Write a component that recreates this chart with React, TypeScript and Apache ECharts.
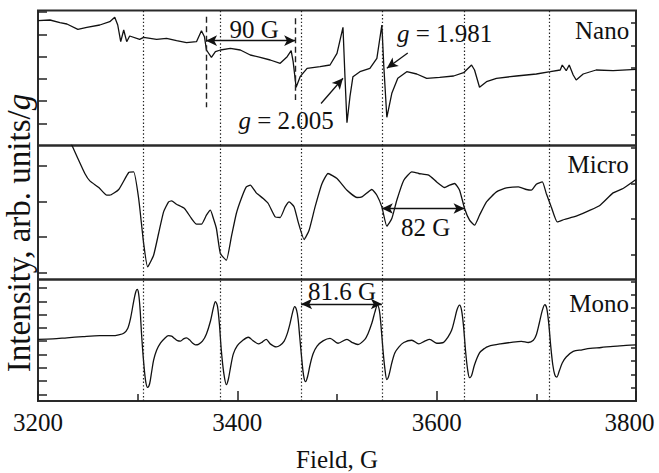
import React, { useEffect, useRef } from "react";
import * as echarts from "echarts";

// ---------- data (field in G, intensity in arb. units) ----------
const fieldMin = 3200;
const fieldMax = 3800;
const fieldLabelStep = 200;

const dottedLines = [3306, 3383, 3464, 3545, 3628, 3713];
const dashedLines = [3368.6, 3458];

const nanoField = [
  3200, 3212, 3222, 3229, 3240, 3249, 3262, 3272, 3277, 3280, 3283, 3286, 3289, 3292, 3302, 3306,
  3319, 3329, 3339, 3349, 3359, 3364, 3367, 3369, 3374, 3378, 3383, 3393, 3403, 3413, 3423, 3433,
  3443, 3450, 3454, 3456, 3459, 3463, 3470, 3483, 3493, 3500, 3506, 3508, 3510, 3513, 3516, 3523,
  3533, 3540, 3545, 3547, 3550, 3555, 3561, 3570, 3580, 3590, 3603, 3617, 3627, 3635, 3638, 3643,
  3650, 3660, 3680, 3700, 3714, 3724, 3726, 3730, 3733, 3737, 3740, 3747, 3760, 3777, 3800,
];
const nanoIntensity = [
  124.8, 125.5, 122.8, 121.5, 116.2, 118.2, 120.5, 123.8, 128.2, 120.5, 103.8, 115.5, 103.8, 109.5, 106.2, 108.2,
  106.2, 107.2, 104.8, 102.8, 103.8, 114.8, 108.8, 95.5, 88.2, 93.8, 95.5, 97.2, 95.5, 90.5, 88.2, 85.5,
  82.2, 88.8, 94.8, 83.8, 58.2, 68.8, 77.2, 78.8, 80.5, 92.2, 118.2, 68.8, 22.8, 48.8, 68.8, 73.8,
  77.2, 87.2, 120.5, 78.8, 28.2, 52.2, 67.2, 73.8, 71.5, 67.2, 68.2, 69.5, 72.8, 80.5, 75.5, 58.2,
  63.8, 67.2, 69.5, 71.5, 73.8, 75.5, 80.5, 74.8, 80.5, 70.5, 65.5, 71.5, 75.5, 74.8, 76.2,
];

const microField = [
  3226, 3234, 3240, 3247, 3252, 3261, 3269, 3272, 3281, 3291, 3296, 3301, 3306, 3310, 3316, 3321,
  3326, 3331, 3334, 3339, 3347, 3354, 3359, 3364, 3369, 3373, 3376, 3379, 3383, 3389, 3394, 3399,
  3404, 3409, 3413, 3419, 3426, 3431, 3438, 3443, 3448, 3452, 3457, 3461, 3467, 3472, 3478, 3485,
  3491, 3500, 3510, 3520, 3525, 3535, 3540, 3545, 3550, 3555, 3560, 3567, 3575, 3582, 3592, 3600,
  3608, 3613, 3618, 3623, 3628, 3633, 3638, 3643, 3650, 3660, 3670, 3682, 3690, 3695, 3700, 3706,
  3710, 3715, 3721, 3728, 3740, 3754, 3764, 3777, 3787, 3800,
];
const microIntensity = [
  150, 134.3, 121, 106, 98.6, 92, 84.3, 84.3, 90, 107, 107.6, 81, 36, 12.6, 24.3, 46,
  67.6, 77.6, 78.6, 75.3, 71, 61, 55.3, 55.3, 64.3, 69.3, 61, 51, 26, 19.3, 42.6, 66,
  81, 92.6, 94.3, 86.6, 81, 76, 62.6, 62, 72.6, 77.6, 72.6, 57.6, 40, 49.3, 72.6, 96,
  106, 101, 89.3, 82, 82.6, 90, 84.3, 72.6, 53.3, 61, 79.3, 99.3, 107.6, 106, 104.3, 97.6,
  92, 94.3, 96, 89.3, 71, 59.3, 54.3, 64.3, 77.6, 87.6, 91.6, 92.6, 90, 89.3, 95.3, 97.6,
  86, 72.6, 57.6, 60, 63.3, 69.3, 74.3, 86.6, 91, 100,
];

const monoField = [
  3200, 3215, 3229, 3245, 3262, 3275, 3281, 3286, 3290, 3293, 3296, 3298, 3299.5, 3301, 3302.5, 3304,
  3306, 3308, 3310, 3312, 3314, 3316, 3319, 3323, 3327, 3331, 3334, 3337, 3340, 3343, 3346, 3349,
  3352, 3355, 3358, 3361, 3365, 3369, 3373, 3376, 3378, 3380, 3382, 3384, 3386.5, 3389, 3391, 3393,
  3396, 3400, 3405, 3411, 3416, 3421, 3425, 3429, 3433, 3439, 3443, 3447, 3450, 3453, 3455.5, 3457.5,
  3459.5, 3461, 3462.5, 3464.5, 3466.5, 3468.5, 3470.5, 3473, 3476, 3480, 3486, 3493, 3501, 3510, 3515, 3521,
  3528, 3531, 3535, 3538, 3540.5, 3542.5, 3544, 3546, 3548, 3550, 3552, 3555, 3558, 3562, 3567, 3575,
  3582, 3588, 3593, 3600, 3607, 3611, 3615, 3618, 3620.5, 3623, 3625, 3627, 3629, 3631, 3633, 3635,
  3638, 3643, 3648, 3652, 3664, 3675, 3685, 3692, 3697, 3700, 3703, 3706, 3708.5, 3710.5, 3712.5, 3714.5,
  3716.5, 3718.5, 3720.5, 3723, 3726, 3730, 3737, 3746, 3754, 3765, 3777, 3790, 3800,
];
const monoIntensity = [
  68, 68.5, 69.7, 71, 72, 72, 73, 74.7, 80, 92, 110, 120, 123, 118, 100, 72,
  43, 22, 15, 19, 32, 45, 56, 64, 69, 72, 71.5, 69, 66.5, 66, 68.5, 69.7,
  67.5, 64, 62, 62.5, 66, 74, 88, 103, 109.7, 105, 85, 55, 30, 18, 24, 36,
  52, 61, 66.5, 70.3, 66.3, 63, 65, 68, 63, 59.7, 61.5, 66, 74, 86, 98, 104,
  100, 90, 72, 48, 28, 21.3, 27, 40, 52, 60.5, 66.3, 69, 63.7, 68, 64.7, 62.3,
  68, 74, 86, 98, 105.7, 100, 85, 58, 36, 23.7, 28, 42, 53, 59.5, 64.5, 67,
  63, 66, 68, 63.7, 64.7, 70, 78, 90, 101, 105.7, 100, 82, 55, 35, 25.7, 28,
  40, 53, 58, 60.3, 63, 64.7, 65.7, 64.5, 67, 73, 86, 100, 106.3, 102, 85, 60,
  40, 29, 26.3, 33, 42, 48.5, 54.7, 56.5, 58, 59, 60.3, 61.3, 62,
];

// y-axis ranges and tick positions (arbitrary units)
const nanoRange = [0, 135];
const microRange = [0, 134];
const monoRange = [0, 134];
const nanoMajorTicks = [22.25, 44.5, 66.75, 89, 111.25, 133.5];
const nanoMinorTicks = [11.1, 33.4, 55.6, 77.9, 100.1, 122.4];
const microMajorTicks = [7, 42.6, 78.2, 113.7];
const microMinorTicks = [24.8, 60.4, 96, 131.5];
const monoMajorTicks = [7.3, 22, 36.6, 51.3, 66, 80.6, 95.3, 110, 124.6];
const monoMinorTicks = [14.7, 29.3, 44, 58.6, 73.3, 88, 102.6, 117.3, 131.9];

const panelNames = ["Nano", "Micro", "Mono"];

const FONT = "Liberation Serif";
const INK = "#111";
const FS = 25;

const rich = {
  n: { fontFamily: FONT, fontSize: FS, color: INK },
  i: { fontFamily: FONT, fontSize: FS, color: INK, fontStyle: "italic" },
};

function textPoint(coord: number[], text: string) {
  return {
    coord,
    symbol: "circle",
    symbolSize: 1,
    itemStyle: { color: "rgba(0,0,0,0)" },
    label: {
      show: true,
      position: "inside",
      formatter: text,
      rich,
      color: INK,
      fontFamily: FONT,
      fontSize: FS,
    },
  };
}

function arrowLine(a: number[], b: number[], startArrow: boolean) {
  return [
    { coord: a, symbol: startArrow ? "arrow" : "none", symbolSize: [8, 11], lineStyle: arrowStyle },
    { coord: b, symbol: "arrow", symbolSize: [8, 11] },
  ];
}

const dottedStyle = { type: [1.4, 2.2], color: "#222", width: 1.2 };
const dashedStyle = { type: [6, 3.5], color: "#222", width: 1.4 };
const arrowStyle = { type: "solid", color: INK, width: 1.3 };

export default function App() {
  const ref = useRef<HTMLDivElement>(null);

  useEffect(() => {
    if (!ref.current) return;
    const chart = echarts.init(ref.current, undefined, { renderer: "svg" });

    const grids = [
      { left: 38, right: 23, top: 10.5, height: 135 },
      { left: 38, right: 23, top: 145.5, height: 134 },
      { left: 38, right: 23, top: 279.5, height: 133.5 },
    ].map((g) => ({ ...g, show: true, borderColor: "#2a2a2a", borderWidth: 2, backgroundColor: "transparent" }));

    const xAxes = [0, 1, 2].map((i) => ({
      type: "value",
      gridIndex: i,
      min: fieldMin,
      max: fieldMax,
      interval: fieldLabelStep,
      axisLine: { show: false },
      splitLine: { show: false },
      axisTick: i === 2 ? { show: true, inside: true, length: 10, lineStyle: { color: "#222", width: 1.5 } } : { show: false },
      minorTick: i === 2 ? { show: true, splitNumber: 2, length: 7, lineStyle: { color: "#222", width: 1.5 } } : { show: false },
      axisLabel:
        i === 2
          ? {
              show: true,
              margin: 9,
              formatter: (v: number) => (v === fieldMax ? `{r|${v}}` : `{n|${v}}`),
              rich: {
                n: { fontFamily: FONT, fontSize: FS, color: INK },
                r: { fontFamily: FONT, fontSize: FS, color: INK, padding: [0, 13, 0, 0] },
              },
            }
          : { show: false },
      name: i === 2 ? "Field, G" : "",
      nameLocation: "middle",
      nameGap: 46,
      nameTextStyle: { fontFamily: FONT, fontSize: FS, color: INK },
    }));

    const ranges = [nanoRange, microRange, monoRange];
    const majors = [nanoMajorTicks, microMajorTicks, monoMajorTicks];
    const minors = [nanoMinorTicks, microMinorTicks, monoMinorTicks];
    const yAxes: any[] = [];
    [0, 1, 2].forEach((i) => {
      yAxes.push({
        type: "value",
        gridIndex: i,
        min: ranges[i][0],
        max: ranges[i][1],
        axisLine: { show: false },
        splitLine: { show: false },
        axisLabel: { show: false },
        axisTick: { show: true, inside: true, length: 9, customValues: majors[i], lineStyle: { color: "#222", width: 1.5 } },
      });
      yAxes.push({
        type: "value",
        gridIndex: i,
        min: ranges[i][0],
        max: ranges[i][1],
        axisLine: { show: false },
        splitLine: { show: false },
        axisLabel: { show: false },
        axisTick: { show: true, inside: true, length: 5, customValues: minors[i], lineStyle: { color: "#222", width: 1.5 } },
      });
    });

    const dotted = dottedLines.map((x) => ({ xAxis: x, lineStyle: dottedStyle }));

    const nanoMarks = [
      ...dotted,
      [{ coord: [dashedLines[0], 128.8], lineStyle: dashedStyle }, { coord: [dashedLines[0], 38.2] }],
      [{ coord: [dashedLines[1], 127.2], lineStyle: dashedStyle }, { coord: [dashedLines[1], 45.5] }],
      arrowLine([dashedLines[0], 104.8], [dashedLines[1], 104.8], true),
      arrowLine([3484, 42], [3506, 67.2], false),
      arrowLine([3571, 92.5], [3550, 77.2], false),
    ];
    const microMarks = [...dotted, arrowLine([3545, 71], [3628, 71], true)];
    const monoMarks = [...dotted, arrowLine([3464, 107], [3545, 107], true)];

    const texts = [
      [
        textPoint([3766, 114.8], `{n|${panelNames[0]}}`),
        textPoint([3417, 116], "{n|90 G}"),
        textPoint([3449, 25.5], "{i|g}{n| = 2.005}"),
        textPoint([3608, 112.5], "{i|g}{n| = 1.981}"),
      ],
      [textPoint([3762, 115.3], `{n|${panelNames[1]}}`), textPoint([3589, 51.8], "{n|82 G}")],
      [textPoint([3763, 107], `{n|${panelNames[2]}}`), textPoint([3505, 121], "{n|81.6 G}")],
    ];

    const fields = [nanoField, microField, monoField];
    const values = [nanoIntensity, microIntensity, monoIntensity];
    const marks = [nanoMarks, microMarks, monoMarks];

    const series = [0, 1, 2].map((i) => ({
      type: "line",
      name: panelNames[i],
      xAxisIndex: i,
      yAxisIndex: i * 2,
      data: fields[i].map((f, k) => [f, values[i][k]]),
      showSymbol: false,
      symbol: "none",
      smooth: i === 2 ? 0.3 : i === 1 ? 0.15 : false,
      clip: true,
      silent: true,
      lineStyle: { color: INK, width: 1.3 },
      markLine: {
        silent: true,
        symbol: ["none", "none"],
        label: { show: false },
        lineStyle: dottedStyle,
        data: marks[i],
        animation: false,
      },
      markPoint: {
        silent: true,
        data: texts[i],
        animation: false,
      },
    }));

    chart.setOption({
      animation: false,
      backgroundColor: "#fff",
      grid: grids,
      xAxis: xAxes,
      yAxis: yAxes,
      series,
      graphic: [
        {
          type: "text",
          x: 19,
          y: 233,
          rotation: Math.PI / 2,
          style: {
            text: "{n|Intensity, arb. units/}{i|g}",
            rich: {
              n: { fontFamily: FONT, fontSize: 33, fill: INK },
              i: { fontFamily: FONT, fontSize: 33, fill: INK, fontStyle: "italic" },
            },
            align: "center",
            verticalAlign: "middle",
            fill: INK,
            fontFamily: FONT,
            fontSize: 33,
          },
        },
      ],
    });

    return () => chart.dispose();
  }, []);

  return <div ref={ref} style={{ position: "absolute", left: 0, top: 0, width: 659, height: 473 }} />;
}
